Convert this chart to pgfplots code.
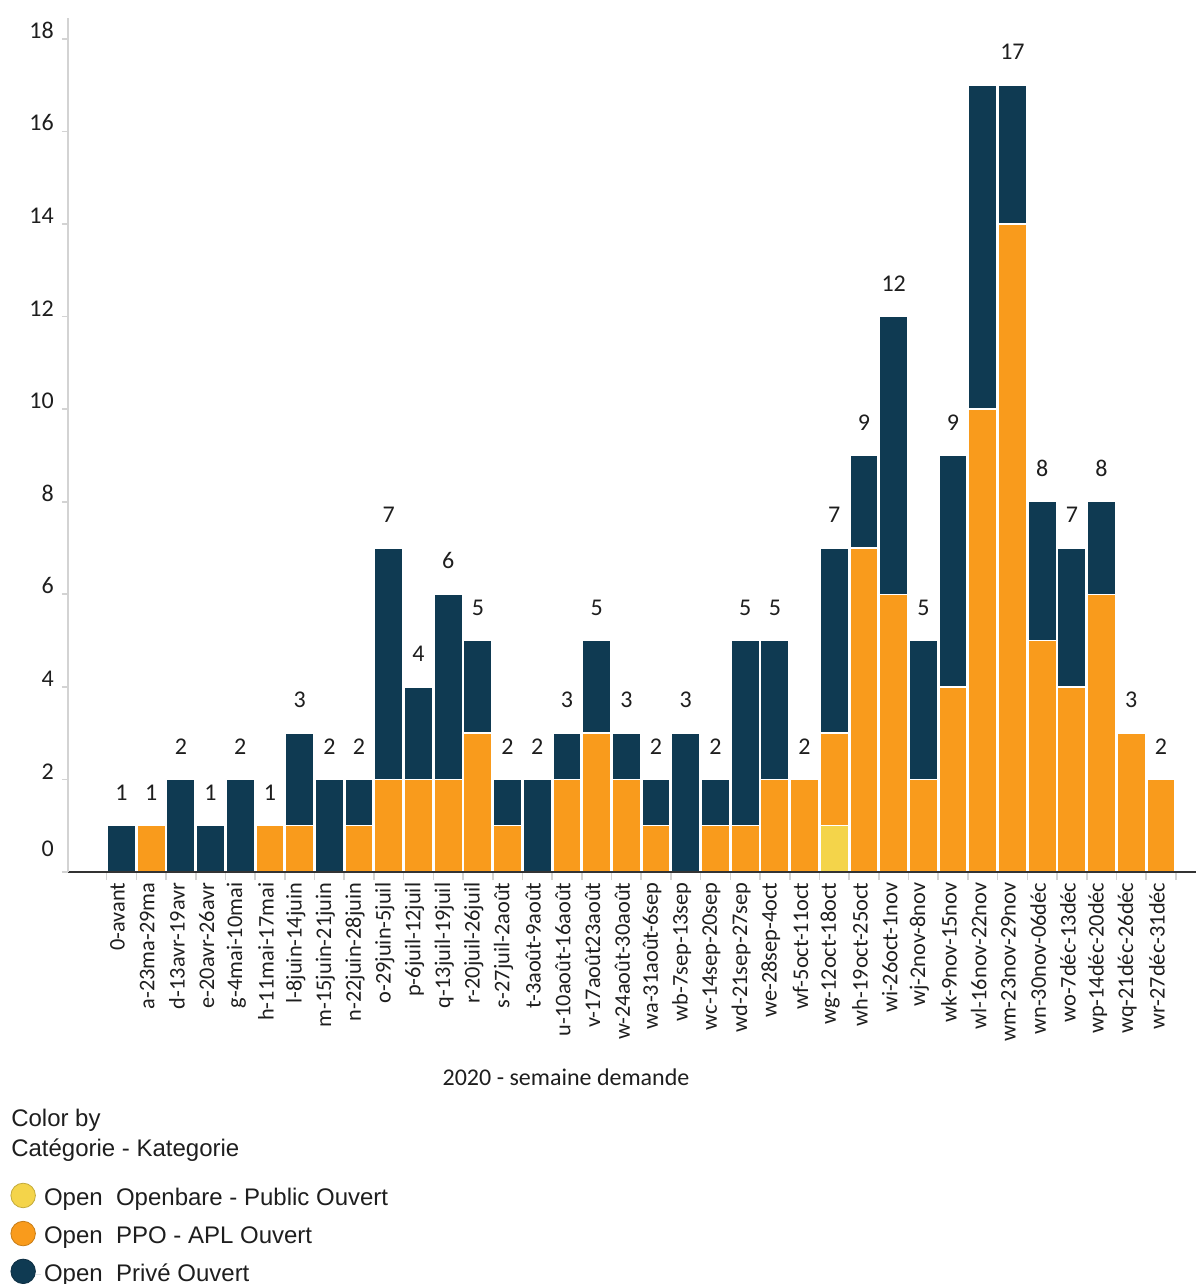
\documentclass[border=0pt]{standalone}
\usepackage{fontspec}
\setmainfont{Carlito}
\newfontfamily\legfont{Liberation Sans}
\usepackage{pgfplots}
\usepackage{pgfplotstable}
\pgfplotsset{compat=1.18}

\definecolor{prive}{HTML}{0F3A52}
\definecolor{ppo}{HTML}{F99B1C}
\definecolor{openbare}{HTML}{F4D44A}
\definecolor{ticgray}{HTML}{D3D3D3}
\definecolor{axisdark}{HTML}{333333}
\definecolor{txt}{HTML}{1E1E1E}

% x = week index, yel = Openbare, ora = PPO, prive = Prive, tot = total, lab = total label shown
\pgfplotstableread{
x  yel ora prive tot lab
0  0   0   1     1   1
1  0   1   0     1   1
2  0   0   2     2   2
3  0   0   1     1   1
4  0   0   2     2   2
5  0   1   0     1   1
6  0   1   2     3   3
7  0   0   2     2   2
8  0   1   1     2   2
9  0   2   5     7   7
10 0   2   2     4   4
11 0   2   4     6   6
12 0   3   2     5   5
13 0   1   1     2   2
14 0   0   2     2   2
15 0   2   1     3   3
16 0   3   2     5   5
17 0   2   1     3   3
18 0   1   1     2   2
19 0   0   3     3   3
20 0   1   1     2   2
21 0   1   4     5   5
22 0   2   3     5   5
23 0   2   0     2   2
24 1   2   4     7   7
25 0   7   2     9   9
26 0   6   6     12  12
27 0   2   3     5   5
28 0   4   5     9   9
29 0   10  7     17  {}
30 0   14  3     17  17
31 0   5   3     8   8
32 0   4   3     7   7
33 0   6   2     8   8
34 0   3   0     3   3
35 0   2   0     2   2
}\weeks

\pgfplotsset{frame/.style={
  at={(0pt,0pt)}, anchor=south west,
  scale only axis, width=846pt, height=640.5pt,
  xmin=-1.8, xmax=36.18, ymin=0, ymax=18.45}}

\begin{document}
\begin{tikzpicture}
\begin{axis}[
  frame,
  ybar stacked, bar width=0.95,
  axis on top,
  axis x line=bottom, axis y line=left,
  x axis line style={-, draw=axisdark, line width=1.1pt},
  y axis line style={-, draw=ticgray, line width=1.5pt},
  tick align=outside,
  xtick={0,...,35},
  xticklabels={0-avant,a-23ma-29ma,d-13avr-19avr,e-20avr-26avr,g-4mai-10mai,h-11mai-17mai,l-8juin-14juin,m-15juin-21juin,n-22juin-28juin,o-29juin-5juil,p-6juil-12juil,q-13juil-19juil,r-20juil-26juil,s-27juil-2août,t-3août-9août,u-10août-16août,v-17août23août,w-24août-30août,wa-31août-6sep,wb-7sep-13sep,wc-14sep-20sep,wd-21sep-27sep,we-28sep-4oct,wf-5oct-11oct,wg-12oct-18oct,wh-19oct-25oct,wi-26oct-1nov,wj-2nov-8nov,wk-9nov-15nov,wl-16nov-22nov,wm-23nov-29nov,wn-30nov-06déc,wo-7déc-13déc,wp-14déc-20déc,wq-21déc-26déc,wr-27déc-31déc},
  x tick label style={xshift=-3pt, rotate=90, anchor=east, font=\fontsize{16.75}{20}\selectfont, text=txt},
  minor xtick={-0.5,0.5,...,35.5},
  major x tick style={draw=none},
  minor x tick style={draw=ticgray, line width=1.2pt},
  minor tick length=6pt,
  ytick={2,4,...,18},
  extra y ticks={0},
  extra y tick style={y tick label style={yshift=11.25pt}},
  y tick style={draw=ticgray, line width=1.2pt},
  major tick length=4.5pt,
  y tick label style={anchor=south east, inner sep=0pt, xshift=-6pt, font=\fontsize{18}{21}\selectfont, text=txt},
  /pgf/number format/assume math mode=true,
  xlabel={2020 - semaine demande},
  xlabel style={at={(axis description cs:0.4415,-0.240)}, anchor=center, font=\fontsize{18}{21}\selectfont, text=txt},
  legend style={at={(axis description cs:-0.0553,-0.3605)}, anchor=north west, draw=none, fill=none,
    font=\legfont\fontsize{18}{21}\selectfont, text=txt, row sep=8pt, cells={anchor=west}},
]
\addplot[fill=openbare, draw=white, line width=1.1pt,
  legend image code/.code={\path (0pt,0pt) rectangle (22.5pt,0pt);
    \filldraw[fill=openbare, draw=openbare!80!black, line width=0.6pt] (9.4pt,1.8pt) circle (9.2pt);}]
  table[x=x, y=yel] {\weeks};
\addlegendentry{Open~~Openbare - Public Ouvert}
\addplot[fill=ppo, draw=white, line width=1.1pt,
  legend image code/.code={\path (0pt,0pt) rectangle (22.5pt,0pt);
    \filldraw[fill=ppo, draw=ppo!80!black, line width=0.6pt] (9.4pt,1.8pt) circle (9.2pt);}]
  table[x=x, y=ora] {\weeks};
\addlegendentry{Open~~PPO - APL Ouvert}
\addplot[fill=prive, draw=white, line width=1.1pt,
  legend image code/.code={\path (0pt,0pt) rectangle (22.5pt,0pt);
    \filldraw[fill=prive, draw=prive!80!black, line width=0.6pt] (9.4pt,1.8pt) circle (9.2pt);}]
  table[x=x, y=prive] {\weeks};
\addlegendentry{Open~~Privé Ouvert}
\end{axis}
% totals above the stacks
\begin{axis}[frame, hide axis]
\addplot[draw=none, mark=none, point meta=explicit symbolic, nodes near coords,
  nodes near coords style={anchor=south, inner sep=0pt, yshift=18.75pt, font=\fontsize{18}{21}\selectfont, text=txt}]
  table[x=x, y=tot, meta=lab] {\weeks};
\end{axis}
\node[anchor=base west, inner sep=0pt, font=\legfont\fontsize{18}{21}\selectfont, text=txt] at (-42.75pt,-190.5pt) {Color by};
\node[anchor=base west, inner sep=0pt, font=\legfont\fontsize{18}{21}\selectfont, text=txt] at (-42.75pt,-213.4pt) {Catégorie - Kategorie};
\pgfresetboundingbox
\path[use as bounding box] (-51pt,-309pt) rectangle (846pt,654pt);
\end{tikzpicture}
\end{document}
